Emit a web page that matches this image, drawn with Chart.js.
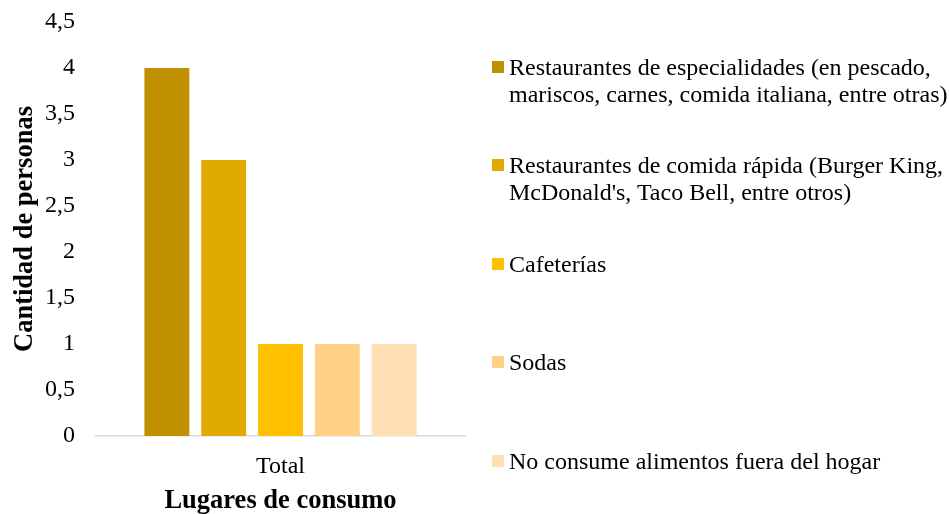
<!DOCTYPE html>
<html><head><meta charset="utf-8">
<script src="https://cdn.jsdelivr.net/npm/chart.js@4/dist/chart.umd.min.js"></script>
<style>
html,body{margin:0;padding:0;background:#fff;}
#wrap{position:relative;width:950px;height:514px;}
#legend{position:absolute;left:492px;top:0;font-family:"Liberation Serif","Times New Roman",serif;font-size:24px;color:#000;}
.item{position:absolute;left:0;width:460px;line-height:27px;}
.sw{position:absolute;left:0;top:7px;width:12px;height:12px;}
.txt{position:absolute;left:17px;top:0;white-space:nowrap;}
</style></head>
<body><div id="wrap"><canvas id="c" width="950" height="514"></canvas><div id="legend"></div></div>
<script>
const categories = ["Total"];
const seriesNames = [
  ["Restaurantes de especialidades (en pescado,", "mariscos, carnes, comida italiana, entre otras)"],
  ["Restaurantes de comida rápida (Burger King,", "McDonald's, Taco Bell, entre otros)"],
  ["Cafeterías"],
  ["Sodas"],
  ["No consume alimentos fuera del hogar"]
];
const seriesValues = [4, 3, 1, 1, 1];
const seriesColors = ["#C09000", "#E1AA00", "#FFC000", "#FFD186", "#FFE0B4"];
const yTicks = [0, 0.5, 1, 1.5, 2, 2.5, 3, 3.5, 4, 4.5];
const xTitle = "Lugares de consumo";
const yTitle = "Cantidad de personas";

const serif = "'Liberation Serif','Times New Roman',serif";
const datasets = seriesNames.map((n, i) => ({
  label: n.join(' '),
  data: [seriesValues[i]],
  backgroundColor: seriesColors[i],
  categoryPercentage: 0.77,
  barPercentage: 0.79
}));

new Chart(document.getElementById('c'), {
  type: 'bar',
  data: { labels: categories, datasets },
  options: {
    responsive: false,
    animation: false,
    layout: { padding: { top: 22, right: 485, left: 0, bottom: 0 } },
    plugins: { legend: { display: false }, tooltip: { enabled: false } },
    scales: {
      x: {
        grid: { display: false, drawTicks: false },
        border: { display: true, color: '#D9D9D9', width: 1.5 },
        ticks: { color: '#000', font: { family: serif, size: 24 }, padding: 16 },
        title: { display: true, text: xTitle, color: '#000', font: { family: serif, size: 26.5, weight: 'bold' }, padding: { top: 5, bottom: -3 } },
        afterFit: s => { s.height = 78; s.paddingLeft = 0; s.paddingRight = 0; }
      },
      y: {
        min: 0, max: 4.5,
        afterBuildTicks: s => { s.ticks = yTicks.map(v => ({ value: v })); },
        grid: { display: false, drawTicks: false },
        border: { display: false },
        ticks: { color: '#000', font: { family: serif, size: 24 }, padding: 21,
          callback: v => String(v).replace('.', ',') },
        title: { display: true, text: yTitle, color: '#000', font: { family: serif, size: 26.5, weight: 'bold' }, padding: { top: 9, bottom: 0 } },
        afterFit: s => { s.width = 96; s.paddingTop = 0; s.paddingBottom = 0; }
      }
    }
  }
});

const leg = document.getElementById('legend');
const tops = [54, 152, 251, 349, 448];
seriesNames.forEach((n, i) => {
  const d = document.createElement('div');
  d.className = 'item';
  d.style.top = tops[i] + 'px';
  const sw = document.createElement('div');
  sw.className = 'sw';
  sw.style.background = seriesColors[i];
  const t = document.createElement('div');
  t.className = 'txt';
  t.innerHTML = n.map(s => s.replace(/&/g,'&amp;').replace(/</g,'&lt;')).join('<br>');
  d.appendChild(sw); d.appendChild(t);
  leg.appendChild(d);
});
</script></body></html>
